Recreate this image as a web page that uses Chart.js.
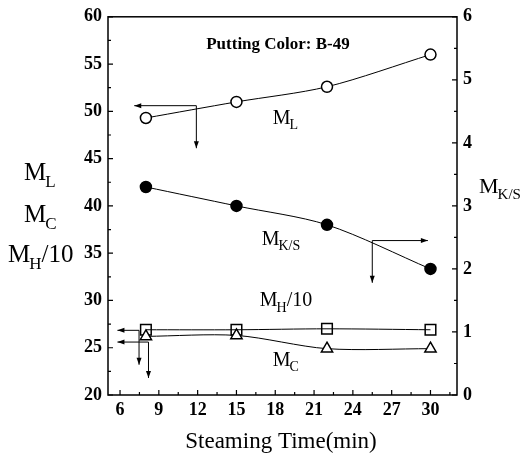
<!DOCTYPE html>
<html><head><meta charset="utf-8">
<script src="https://cdn.jsdelivr.net/npm/chart.js@4.4.0/dist/chart.umd.min.js"></script>
<style>html,body{margin:0;padding:0;background:#fff;}canvas{display:block;}</style>
</head><body>
<canvas id="c" width="530" height="455"></canvas>
<script>
const times = [8, 15, 22, 30];
const mL = [49.3, 51.0, 52.6, 56.0];
const mKS = [3.3, 3.0, 2.7, 2.0];
const mH10 = [26.9, 26.9, 27.0, 26.9];
const mC = [26.2, 26.3, 24.9, 24.9];
const xTicks = [6, 9, 12, 15, 18, 21, 24, 27, 30];
const leftTicks = [20, 25, 30, 35, 40, 45, 50, 55, 60];
const rightTicks = [0, 1, 2, 3, 4, 5, 6];
// annotation arrows [x1, y1, x2, y2, axis]
const arrows = [
  [11.9, 50.6, 7.1, 50.6, 'y'], [11.9, 50.6, 11.9, 46.1, 'y'],
  [25.5, 2.45, 29.8, 2.45, 'y2'], [25.5, 2.45, 25.5, 1.78, 'y2'],
  [7.47, 26.84, 5.8, 26.84, 'y'], [7.47, 26.84, 7.47, 23.2, 'y'],
  [8.2, 25.6, 5.8, 25.6, 'y'], [8.2, 25.6, 8.2, 21.8, 'y']
];
// in-plot labels: [main, sub, suffix, x, y]
const seriesLabels = [
  ['M', 'L', '', 17.8, 48.7],
  ['M', 'K/S', '', 16.95, 35.9],
  ['M', 'H', '/10', 16.8, 29.4],
  ['M', 'C', '', 17.8, 23.1]
];
const noteText = 'Putting Color: B-49';
const xTitle = 'Steaming Time(min)';

const SERIF = '"Liberation Serif", "DejaVu Serif", serif';
function pts(ys){ return times.map((t,i)=>({x:t, y:ys[i]})); }

function drawSub(ctx, main, sub, suffix, x, y, size){
  ctx.save();
  ctx.fillStyle = '#000';
  ctx.textAlign = 'left';
  ctx.textBaseline = 'alphabetic';
  ctx.font = size + 'px ' + SERIF;
  ctx.fillText(main, x, y);
  let w = ctx.measureText(main).width;
  const ss = Math.round(size * 0.68);
  ctx.font = ss + 'px ' + SERIF;
  ctx.fillText(sub, x + w - 1, y + size * 0.28);
  w += ctx.measureText(sub).width - 1;
  if (suffix){
    ctx.font = size + 'px ' + SERIF;
    ctx.fillText(suffix, x + w, y);
  }
  ctx.restore();
}

const decor = {
  id: 'decor',
  afterDraw(chart){
    const ctx = chart.ctx, a = chart.chartArea;
    const xs = chart.scales.x, yl = chart.scales.y, yr = chart.scales.y2;
    ctx.save();
    ctx.strokeStyle = '#000';
    ctx.lineWidth = 1.5;
    ctx.strokeRect(a.left, a.top, a.right - a.left, a.bottom - a.top);
    ctx.lineWidth = 1.2;
    ctx.beginPath();
    for (let i = 0; i < xTicks.length; i++){
      const p = xs.getPixelForValue(xTicks[i]);
      ctx.moveTo(p, a.bottom); ctx.lineTo(p, a.bottom - 5);
      const m = xs.getPixelForValue(xTicks[i] + (xTicks[1]-xTicks[0])/2);
      if (m < a.right - 2){ ctx.moveTo(m, a.bottom); ctx.lineTo(m, a.bottom - 3); }
    }
    for (let i = 0; i < leftTicks.length; i++){
      const p = yl.getPixelForValue(leftTicks[i]);
      ctx.moveTo(a.left, p); ctx.lineTo(a.left + 5, p);
      if (i < leftTicks.length - 1){
        const m = yl.getPixelForValue((leftTicks[i] + leftTicks[i+1]) / 2);
        ctx.moveTo(a.left, m); ctx.lineTo(a.left + 3, m);
      }
    }
    for (let i = 0; i < rightTicks.length; i++){
      const p = yr.getPixelForValue(rightTicks[i]);
      ctx.moveTo(a.right, p); ctx.lineTo(a.right - 5, p);
      if (i < rightTicks.length - 1){
        const m = yr.getPixelForValue((rightTicks[i] + rightTicks[i+1]) / 2);
        ctx.moveTo(a.right, m); ctx.lineTo(a.right - 3, m);
      }
    }
    ctx.stroke();
    ctx.lineWidth = 1;
    ctx.fillStyle = '#000';
    arrows.forEach(([x1,y1,x2,y2,ax])=>{
      const ys = chart.scales[ax];
      const px1 = xs.getPixelForValue(x1), py1 = ys.getPixelForValue(y1);
      const px2 = xs.getPixelForValue(x2), py2 = ys.getPixelForValue(y2);
      ctx.beginPath(); ctx.moveTo(px1, py1); ctx.lineTo(px2, py2); ctx.stroke();
      const ang = Math.atan2(py2 - py1, px2 - px1);
      const L = 7, W = 2.5;
      ctx.beginPath();
      ctx.moveTo(px2, py2);
      ctx.lineTo(px2 - L*Math.cos(ang) + W*Math.sin(ang), py2 - L*Math.sin(ang) - W*Math.cos(ang));
      ctx.lineTo(px2 - L*Math.cos(ang) - W*Math.sin(ang), py2 - L*Math.sin(ang) + W*Math.cos(ang));
      ctx.closePath(); ctx.fill();
    });
    seriesLabels.forEach(([m,s,suf,x,y])=>{
      drawSub(ctx, m, s, suf, xs.getPixelForValue(x), yl.getPixelForValue(y), 20);
    });
    ctx.font = 'bold 17px ' + SERIF;
    ctx.textAlign = 'center'; ctx.textBaseline = 'alphabetic';
    ctx.fillText(noteText, 278, a.top + 32);
    drawSub(ctx, 'M', 'L', '', 24, 180, 25);
    drawSub(ctx, 'M', 'C', '', 24, 222, 25);
    drawSub(ctx, 'M', 'H', '/10', 8, 262, 25);
    drawSub(ctx, 'M', 'K/S', '', 479, 193, 22);
    ctx.font = '23px ' + SERIF;
    ctx.textAlign = 'center';
    ctx.textBaseline = 'alphabetic';
    ctx.fillText(xTitle, 281, 448);
    ctx.restore();
  }
};

const lineBase = {showLine: true, borderColor: '#000', borderWidth: 1, tension: 0.3,
  pointBorderColor: '#000', pointBorderWidth: 1.5, pointRadius: 5.5, pointHoverRadius: 5.5};
const tickFont = {family: SERIF, size: 18, weight: 'bold'};

new Chart(document.getElementById('c'), {
  type: 'scatter',
  data: { datasets: [
    Object.assign({}, lineBase, {label: 'ML', data: pts(mL), yAxisID: 'y', pointStyle: 'circle', pointBackgroundColor: '#fff'}),
    Object.assign({}, lineBase, {label: 'MK/S', data: pts(mKS), yAxisID: 'y2', pointStyle: 'circle', pointBackgroundColor: '#000'}),
    Object.assign({}, lineBase, {label: 'MC', data: pts(mC), yAxisID: 'y', pointStyle: 'triangle', pointRadius: 6.5, pointBackgroundColor: '#fff'}),
    Object.assign({}, lineBase, {label: 'MH/10', data: pts(mH10), yAxisID: 'y', pointStyle: 'rect', pointRadius: 7.5, pointBackgroundColor: 'rgba(255,255,255,0)'})
  ]},
  options: {
    responsive: false, animation: false,
    layout: {padding: {top: 15, left: 0, right: 0, bottom: 0}},
    plugins: {legend: {display: false}, tooltip: {enabled: false}},
    scales: {
      x: {type: 'linear', min: 5.07, max: 32.05,
        afterBuildTicks: s => { s.ticks = xTicks.map(v => ({value: v})); },
        afterFit: s => { s.height = 60; },
        grid: {display: false, drawTicks: false}, border: {display: false},
        ticks: {color: '#000', padding: 5, maxRotation: 0, autoSkip: false, font: tickFont}},
      y: {type: 'linear', position: 'left', min: 20, max: 60,
        afterBuildTicks: s => { s.ticks = leftTicks.map(v => ({value: v})); },
        afterFit: s => { s.width = 108; },
        grid: {display: false, drawTicks: false}, border: {display: false},
        ticks: {color: '#000', padding: 6, font: tickFont}},
      y2: {type: 'linear', position: 'right', min: 0, max: 6,
        afterBuildTicks: s => { s.ticks = rightTicks.map(v => ({value: v})); },
        afterFit: s => { s.width = 73; },
        grid: {display: false, drawTicks: false}, border: {display: false},
        ticks: {color: '#000', padding: 6, font: tickFont}}
    }
  },
  plugins: [decor]
});
</script>
</body></html>
